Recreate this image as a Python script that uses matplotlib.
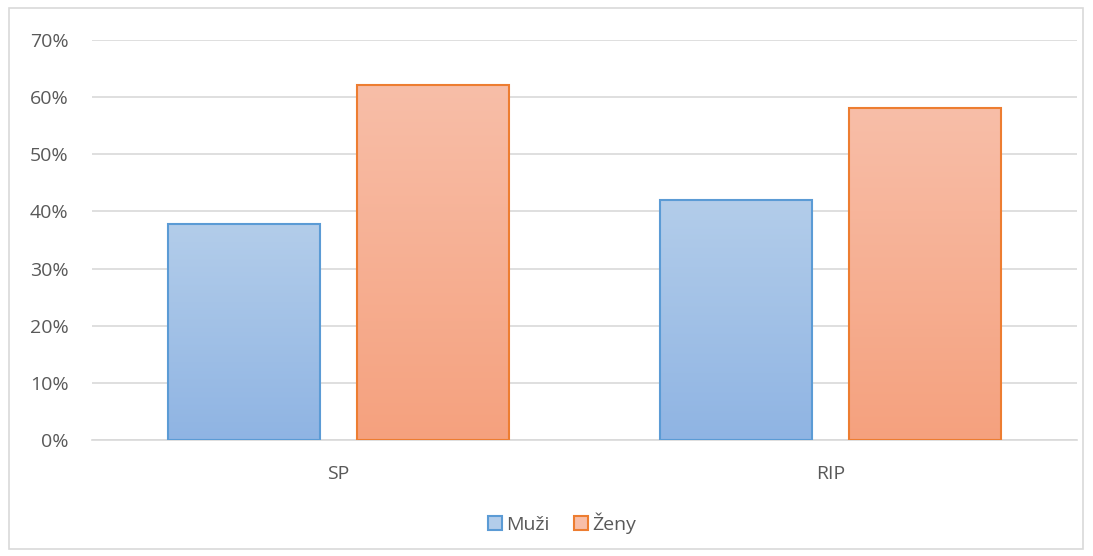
import matplotlib
matplotlib.use("Agg")
import matplotlib.pyplot as plt
import numpy as np
from matplotlib.patches import Rectangle, Patch
from matplotlib.colors import LinearSegmentedColormap

categories = ["SP", "RIP"]
series_names = ["Muži", "Ženy"]
muzi = [0.378, 0.42]
zeny = [0.621, 0.581]
yticks = [0, 0.1, 0.2, 0.3, 0.4, 0.5, 0.6, 0.7]
ytick_labels = ["0%", "10%", "20%", "30%", "40%", "50%", "60%", "70%"]

plt.rcParams['font.family'] = ['Open Sans', 'DejaVu Sans']
txt = "#595959"

fig = plt.figure(figsize=(10.93, 5.56), dpi=100)
ax = fig.add_axes([92/1093, 1 - 440/556, (1077-92)/1093, 400/556])

x = np.arange(len(categories))
w = 0.309
off = 0.192
edges = ["#5b9bd5", "#ed7d31"]
grads = [("#8fb4e3", "#b3cdea"), ("#f5a17e", "#f8bea8")]
for i, (vals, ec) in enumerate(zip([muzi, zeny], edges)):
    bars = ax.bar(x + (i*2-1)*off, vals, width=w, facecolor="none", edgecolor=ec,
                  linewidth=1.5, zorder=3, label=series_names[i])
    cmap = LinearSegmentedColormap.from_list("g%d" % i, grads[i])
    for b in bars:
        x0, y0 = b.get_x(), b.get_y()
        bw, bh = b.get_width(), b.get_height()
        grad = np.linspace(0, 1, 256).reshape(-1, 1)
        ax.imshow(grad, extent=(x0, x0 + bw, y0, y0 + bh), origin="lower",
                  cmap=cmap, aspect="auto", zorder=2)

ax.set_xlim(-0.5, 1.5)
ax.set_ylim(0, 0.7)
ax.set_yticks(yticks)
ax.set_yticklabels(ytick_labels)
ax.set_xticks(x)
ax.set_xticklabels(categories)
ax.yaxis.grid(True, color="#d9d9d9", linewidth=1.2, zorder=0)
ax.set_axisbelow(True)
for s in ["top", "right", "left"]:
    ax.spines[s].set_visible(False)
ax.spines["bottom"].set_color("#d9d9d9")
ax.spines["bottom"].set_linewidth(1.2)
ax.tick_params(axis="both", length=0, colors=txt, labelsize=14)
ax.tick_params(axis="y", pad=17)
ax.tick_params(axis="x", pad=18)

handles = [Patch(facecolor=grads[i][1], edgecolor=edges[i], linewidth=1.5) for i in range(2)]
fig.legend(handles, series_names, loc="center", bbox_to_anchor=(562/1093, 1 - 523/556),
           ncol=2, frameon=False, fontsize=14, handlelength=0.7, handleheight=0.7,
           handletextpad=0.2, columnspacing=1.3, labelcolor=txt)

fig.patches.append(Rectangle((9/1093, 7/556), 1074/1093, 541/556, transform=fig.transFigure,
                             fill=False, edgecolor="#d9d9d9", linewidth=1.2))
fig.savefig("out.png", dpi=100, facecolor="white")
